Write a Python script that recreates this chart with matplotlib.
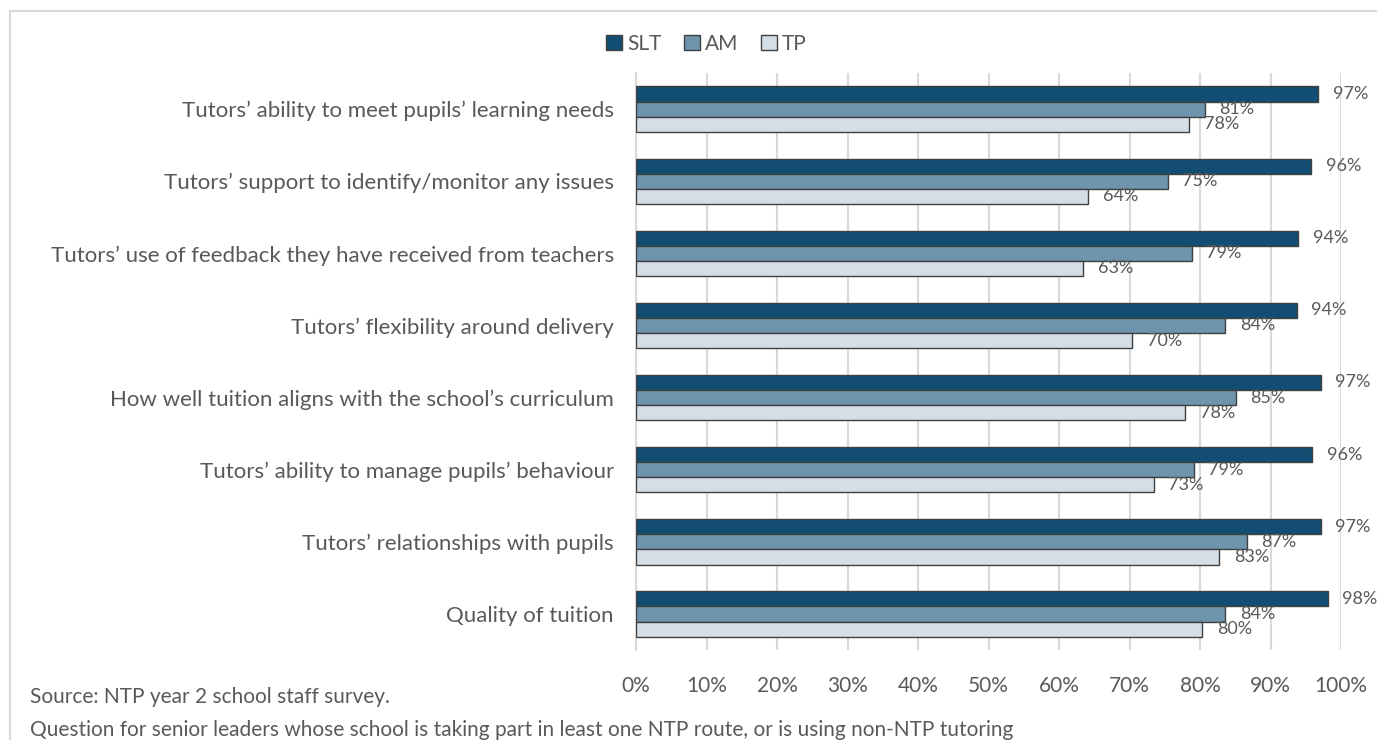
import matplotlib.pyplot as plt
from matplotlib.lines import Line2D

plt.rcParams['font.family'] = ['Lato', 'DejaVu Sans']

categories = [
    "Tutors\u2019 ability to meet pupils\u2019 learning needs",
    "Tutors\u2019 support to identify/monitor any issues",
    "Tutors\u2019 use of feedback they have received from teachers",
    "Tutors\u2019 flexibility around delivery",
    "How well tuition aligns with the school\u2019s curriculum",
    "Tutors\u2019 ability to manage pupils\u2019 behaviour",
    "Tutors\u2019 relationships with pupils",
    "Quality of tuition",
]
slt = [96.8, 95.8, 93.9, 93.7, 97.1, 95.9, 97.1, 98.1]
am = [80.7, 75.4, 78.8, 83.6, 85.1, 79.1, 86.6, 83.6]
tp = [78.5, 64.1, 63.4, 70.4, 77.9, 73.4, 82.7, 80.3]
series_names = ["SLT", "AM", "TP"]
series_colors = ["#124e73", "#6f94ad", "#d3dee7"]

text_col = "#595959"
grid_col = "#d9d9d9"

fig = plt.figure(figsize=(13.77, 7.40), dpi=100)
ax = fig.add_axes([0.4619, 0.1216, 0.512, 0.7797])

bar_h = 0.21
pos = list(range(len(categories)))
for k, (vals, col) in enumerate(zip([slt, am, tp], series_colors)):
    ys = [p + (k - 1) * bar_h for p in pos]
    ax.barh(ys, vals, height=bar_h, color=col, edgecolor="#404040",
            linewidth=1.0, zorder=3)
    for y, v in zip(ys, vals):
        ax.annotate(f"{v:.0f}%", xy=(v, y), xytext=(10.5, 0),
                    textcoords="offset points", ha="left", va="center",
                    fontsize=13, color=text_col)

ax.set_xlim(0, 100)
ax.set_ylim(len(categories) - 0.5, -0.5)
ax.set_xticks(range(0, 101, 10))
ax.set_xticklabels([f"{t}%" for t in range(0, 101, 10)])
ax.set_yticks(pos)
ax.set_yticklabels(categories)
ax.tick_params(axis="x", length=0, pad=19, labelsize=15, labelcolor=text_col)
ax.tick_params(axis="y", length=0, pad=16, labelsize=16, labelcolor=text_col)
ax.grid(axis="x", color=grid_col, linewidth=1.5, zorder=0)
for s in ["top", "right", "bottom"]:
    ax.spines[s].set_visible(False)
ax.spines["left"].set_color(grid_col)
ax.spines["left"].set_linewidth(1.5)

handles = [plt.Rectangle((0, 0), 1, 1, facecolor=c, edgecolor="#404040", linewidth=1)
           for c in series_colors]
fig.legend(handles, series_names, loc="center", bbox_to_anchor=(0.513, 1 - 44 / 740),
           ncol=3, frameon=False, fontsize=15, labelcolor=text_col,
           handlelength=0.75, handleheight=0.75, handletextpad=0.25, columnspacing=1.1)

fig.text(30 / 1377, 1 - 697 / 740, "Source: NTP year 2 school staff survey.",
         fontsize=15, color=text_col, va="center", ha="left")
fig.text(30 / 1377, 1 - 730 / 740,
         "Question for senior leaders whose school is taking part in least one NTP route, "
         "or is using non-NTP tutoring",
         fontsize=15, color=text_col, va="center", ha="left")

# chart frame along the top and left edges
fig.add_artist(Line2D([10 / 1377, 1], [1 - 11 / 740, 1 - 11 / 740],
                      color=grid_col, linewidth=1.5, transform=fig.transFigure))
fig.add_artist(Line2D([10 / 1377, 10 / 1377], [0, 1 - 11 / 740],
                      color=grid_col, linewidth=1.5, transform=fig.transFigure))

fig.savefig("out.png", dpi=100, facecolor="white")
